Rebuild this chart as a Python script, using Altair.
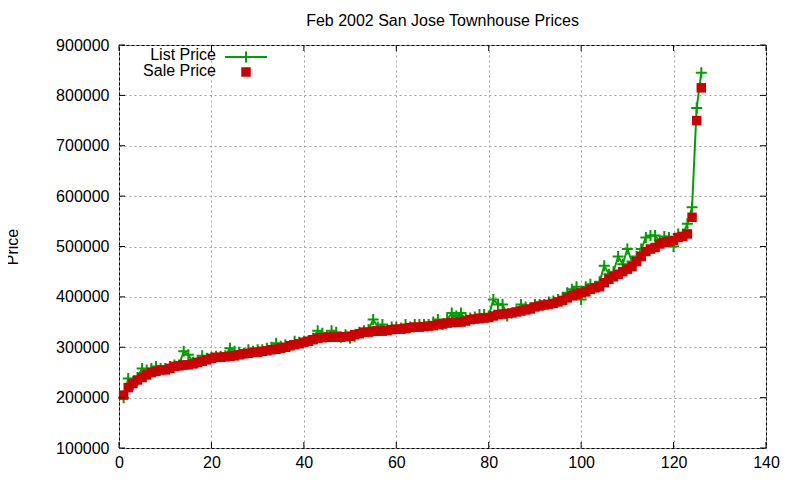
import altair as alt
import pandas as pd

title = "Feb 2002 San Jose Townhouse Prices"

sale_price = [
    205000, 220000, 228000, 235000, 240000, 245000, 250000, 252000, 255000, 255000,
    258000, 262000, 263000, 265000, 265000, 267000, 270000, 272000, 275000, 278000,
    280000, 280000, 281000, 282000, 283000, 285000, 287000, 288000, 290000, 290000,
    292000, 293000, 295000, 296000, 298000, 300000, 303000, 305000, 307000, 310000,
    312000, 315000, 318000, 319000, 320000, 320000, 320000, 320000, 321000, 322000,
    325000, 327000, 330000, 330000, 332000, 332000, 332000, 333000, 335000, 336000,
    336000, 337000, 339000, 340000, 340000, 341000, 342000, 343000, 345000, 346000,
    348000, 349000, 350000, 350000, 352000, 355000, 356000, 357000, 358000, 359000,
    362000, 365000, 366000, 367000, 368000, 370000, 372000, 374000, 376000, 380000,
    382000, 384000, 385000, 387000, 390000, 393000, 398000, 402000, 405000, 408000,
    410000, 415000, 418000, 420000, 428000, 435000, 440000, 445000, 450000, 455000,
    460000, 470000, 480000, 490000, 495000, 498000, 505000, 508000, 510000, 512000,
    518000, 520000, 525000, 558000, 750000, 815000,
]

list_price = [
    200000, 238000, 225000, 240000, 258000, 255000, 258000, 262000, 258000, 258000,
    262000, 265000, 265000, 292000, 285000, 270000, 270000, 283000, 278000, 280000,
    282000, 282000, 283000, 298000, 292000, 290000, 288000, 295000, 292000, 295000,
    295000, 298000, 300000, 308000, 302000, 305000, 303000, 312000, 310000, 312000,
    313000, 318000, 333000, 328000, 322000, 333000, 330000, 320000, 325000, 318000,
    322000, 330000, 333000, 335000, 355000, 340000, 345000, 335000, 340000, 340000,
    338000, 345000, 340000, 345000, 345000, 345000, 345000, 350000, 355000, 345000,
    355000, 368000, 362000, 368000, 355000, 358000, 360000, 365000, 365000, 362000,
    395000, 385000, 385000, 362000, 368000, 372000, 385000, 380000, 378000, 385000,
    385000, 385000, 390000, 392000, 395000, 398000, 408000, 415000, 420000, 395000,
    420000, 425000, 420000, 430000, 462000, 445000, 450000, 480000, 465000, 495000,
    470000, 480000, 495000, 518000, 522000, 522000, 510000, 520000, 518000, 500000,
    525000, 525000, 545000, 578000, 775000, 845000,
]

index = list(range(1, len(sale_price) + 1))
x_ticks = [0, 20, 40, 60, 80, 100, 120, 140]
y_ticks = [100000, 200000, 300000, 400000, 500000, 600000, 700000, 800000, 900000]

GREEN = "#00a000"
RED = "#cc0000"
W, H = 647, 403
FONT = "Liberation Sans"

df = pd.DataFrame({"n": index, "list": list_price, "sale": sale_price})

xs = alt.Scale(domain=[0, 140], nice=False)
ys = alt.Scale(domain=[100000, 900000], nice=False, zero=False)

xax = alt.Axis(values=x_ticks, title=None, grid=True, labelPadding=6, labelFlush=False)
yax = alt.Axis(values=y_ticks, title="Price", grid=True, labelPadding=10, format="d",
               labelFlush=False, titleX=-107, titleBaseline="middle",
               titleFontWeight="normal", titleFontSize=16)

base = alt.Chart(df)

list_line = base.mark_line(color=GREEN, strokeWidth=2).encode(
    x=alt.X("n:Q", scale=xs, axis=xax),
    y=alt.Y("list:Q", scale=ys, axis=yax),
)
plus_path = "M-1,0L1,0M0,-1L0,1"
list_pts = base.mark_point(shape=plus_path, size=121, color=GREEN, filled=False,
                           strokeWidth=2, opacity=1).encode(
    x=alt.X("n:Q", scale=xs), y=alt.Y("list:Q", scale=ys))
sale_pts = base.mark_point(shape="square", size=90, color=RED, filled=True,
                           opacity=1).encode(
    x=alt.X("n:Q", scale=xs), y=alt.Y("sale:Q", scale=ys))

# inward mirrored ticks
xt = alt.Chart(pd.DataFrame({"v": x_ticks}))
yt = alt.Chart(pd.DataFrame({"v": y_ticks}))
tk = dict(color="black", strokeWidth=1)
ticks = [
    xt.mark_rule(**tk).encode(x=alt.X("v:Q", scale=xs), y=alt.value(H), y2=alt.value(H - 6)),
    xt.mark_rule(**tk).encode(x=alt.X("v:Q", scale=xs), y=alt.value(0), y2=alt.value(6)),
    yt.mark_rule(**tk).encode(y=alt.Y("v:Q", scale=ys), x=alt.value(0), x2=alt.value(6)),
    yt.mark_rule(**tk).encode(y=alt.Y("v:Q", scale=ys), x=alt.value(W), x2=alt.value(W - 6)),
]

# legend (gnuplot style: text left, sample right)
lg = alt.Chart(pd.DataFrame({"a": [0]}))
legend = [
    lg.mark_text(align="right", baseline="middle", fontSize=16, font=FONT, color="black").encode(
        x=alt.value(97), y=alt.value(10), text=alt.value("List Price")),
    lg.mark_text(align="right", baseline="middle", fontSize=16, font=FONT, color="black").encode(
        x=alt.value(97), y=alt.value(26), text=alt.value("Sale Price")),
    lg.mark_rule(color=GREEN, strokeWidth=2).encode(
        x=alt.value(106), x2=alt.value(148), y=alt.value(12)),
    lg.mark_point(shape=plus_path, size=121, color=GREEN, filled=False, strokeWidth=2,
                  opacity=1).encode(x=alt.value(127), y=alt.value(12)),
    lg.mark_point(shape="square", size=90, color=RED, filled=True, opacity=1).encode(
        x=alt.value(127), y=alt.value(27)),
]

chart = alt.layer(list_line, list_pts, sale_pts, *ticks, *legend).properties(
    width=W, height=H,
    title=alt.TitleParams(title, fontSize=16, font=FONT, fontWeight="normal", offset=8),
    autosize=alt.AutoSizeParams(type="none"),
    padding={"left": 111, "top": 37, "right": 26, "bottom": 24},
).configure(
    background="white",
    font=FONT,
).configure_view(
    stroke="black", strokeWidth=1,
).configure_axis(
    domain=False, ticks=False,
    labelFont=FONT, labelFontSize=16, labelColor="black",
    titleFont=FONT, titleColor="black",
    gridColor="#a0a0a0", gridDash=[2, 3], gridWidth=1,
)

chart.save("out.html", embed_options={"renderer": "svg", "actions": False})
